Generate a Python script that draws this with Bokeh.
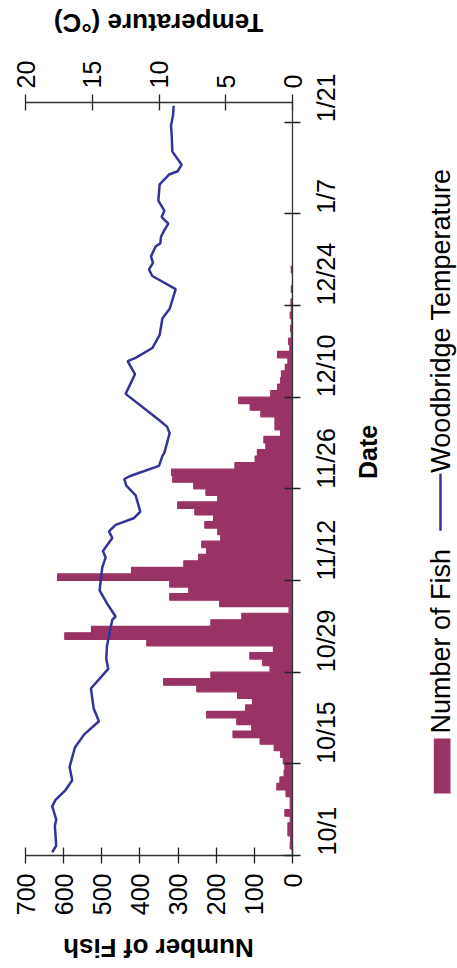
import math
from bokeh.plotting import figure
from bokeh.layouts import column, row
from bokeh.models import Range1d, LinearAxis, FixedTicker, ColumnDataSource
from bokeh.core.properties import value
from bokeh.embed import file_html
from bokeh.resources import INLINE

# ---------------- data ----------------
date_ticks = [0, 14, 28, 42, 56, 70, 84, 98, 112]          # days since 10/1
date_labels = ["10/1", "10/15", "10/29", "11/12", "11/26", "12/10", "12/24", "1/7", "1/21"]
fish_ticks = [0, 100, 200, 300, 400, 500, 600, 700]
temp_ticks = [0, 5, 10, 15, 20]

day_index = list(range(90))
fish_counts = [0, 6, 5, 12, 12, 6, 20, 6, 6, 17,
               41, 33, 22, 20, 24, 31, 48, 85, 156, 107,
               146, 225, 123, 105, 144, 251, 338, 214, 59, 78,
               112, 50, 382, 597, 527, 214, 133, 9, 191, 322,
               272, 322, 616, 422, 285, 246, 225, 238, 188, 196,
               230, 207, 256, 301, 196, 227, 259, 314, 317, 151,
               98, 92, 70, 75, 31, 46, 46, 83, 111, 141,
               57, 39, 31, 29, 19, 12, 39, 7, 10, 3,
               5, 2, 6, 3, 4, 0, 3, 0, 0, 3]

temp_days = [0.5, 1.5, 4.5, 5.5, 7.5, 8.5, 10, 11.5, 13.5, 16.5,
             18.5, 20.5, 22.5, 25.5, 28.5, 30, 32, 36, 36.5, 38.5,
             40.5, 44, 45.5, 46.5, 48.5, 49.5, 50.5, 51.5, 52.5, 55,
             56.5, 57.5, 58, 59.5, 61, 61.5, 64.5, 65.5, 66.5, 70.5,
             73.5, 75.5, 76, 77.5, 79.5, 82, 83.5, 86.5, 88.5, 89.5,
             90.5, 91.5, 93, 93.5, 94.5, 95.5, 96.5, 97.5, 98.5, 100,
             102.5, 104, 104.5, 105.5, 107.5, 110, 111.5, 113, 114.5]
temp_values = [18.0, 17.7, 17.8, 17.7, 18.0, 17.75, 17.0, 16.5, 16.7, 16.3,
               15.6, 14.5, 14.9, 15.1, 13.8, 13.95, 13.9, 13.5, 13.25, 13.9,
               14.45, 14.25, 14.0, 14.2, 13.5, 13.75, 13.25, 11.9, 11.4, 11.75,
               12.45, 12.6, 12.1, 10.0, 9.75, 9.6, 9.2, 9.4, 10.0, 12.5,
               11.8, 12.35, 11.75, 10.5, 9.95, 9.75, 9.2, 8.75, 10.5, 10.75,
               10.45, 10.6, 10.25, 9.9, 9.85, 9.6, 9.3, 9.8, 9.6, 10.05,
               9.95, 9.25, 8.6, 8.3, 9.0, 9.05, 9.1, 8.95, 8.9]

fish_title = "Number of Fish"
temp_title = "Temperature (\u00b0C)"
date_title = "Date"
legend_labels = ["Number of Fish", "Woodbridge Temperature"]

FONT = "Liberation Sans"
BAR = "#993366"
LINE = "#333399"


def blank(w, h, yh=None):
    f = figure(width=w, height=h, x_range=Range1d(0, w),
               y_range=Range1d(0, yh if yh is not None else h),
               output_backend="svg", toolbar_location=None,
               x_axis_type=None, y_axis_type=None,
               min_border=0)
    f.outline_line_color = None
    f.xgrid.visible = False
    f.ygrid.visible = False
    f.background_fill_color = "white"
    f.border_fill_color = "white"
    return f


# ---------------- main chart ----------------
p = figure(width=408, height=882,
           x_range=Range1d(700, 0), y_range=Range1d(0, 115),
           y_axis_location="right",
           output_backend="svg", toolbar_location=None,
           min_border_left=25, min_border_right=116,
           min_border_top=59, min_border_bottom=70)
p.extra_x_ranges = {"temp": Range1d(20, 0)}
p.outline_line_color = None
p.xgrid.visible = False
p.ygrid.visible = False
p.background_fill_color = "white"
p.border_fill_color = "white"

src = ColumnDataSource(dict(y=[d + 0.5 for d in day_index], right=fish_counts))
p.hbar(y="y", height=1.0, left=0, right="right", source=src,
       fill_color=BAR, line_color=BAR, line_width=1.2)
p.line(x=temp_values, y=temp_days, x_range_name="temp",
       line_color=LINE, line_width=2.5)

ax_bottom = p.below[0]
ax_right = p.right[0]
ax_top = LinearAxis(x_range_name="temp")
p.add_layout(ax_top, "above")


def style(ax, ticks, standoff):
    ax.ticker = FixedTicker(ticks=ticks)
    ax.minor_tick_line_color = None
    ax.major_tick_in = 8
    ax.major_tick_out = 8
    ax.axis_line_color = "#333333"
    ax.axis_line_width = 1.3
    ax.major_tick_line_color = "#222222"
    ax.major_tick_line_width = 1.3
    ax.major_label_orientation = math.pi / 2
    ax.major_label_standoff = standoff
    ax.major_label_text_font = FONT
    ax.major_label_text_font_size = "25px"
    ax.major_label_text_color = "black"


style(ax_bottom, fish_ticks, 10)
style(ax_top, temp_ticks, 6)
style(ax_right, date_ticks, 26)
ax_right.major_label_overrides = {t: l for t, l in zip(date_ticks, date_labels)}
ax_right.axis_label = date_title
ax_right.axis_label_orientation = math.pi / 2
ax_right.axis_label_standoff = 10
ax_right.axis_label_text_font = FONT
ax_right.axis_label_text_font_style = "bold"
ax_right.axis_label_text_font_size = "25px"
ax_right.axis_label_text_color = "black"

# ---------------- axis titles (upside down) ----------------
top = blank(457, 43)
top.text(x=[158], y=[21], text=[temp_title], angle=math.pi,
         text_font=value(FONT), text_font_style="bold", text_font_size="26px",
         text_align="center", text_baseline="middle", text_color="black")

bottom = blank(457, 43)
bottom.text(x=[158], y=[21], text=[fish_title], angle=math.pi,
            text_font=value(FONT), text_font_style="bold", text_font_size="26px",
            text_align="center", text_baseline="middle", text_color="black")

# ---------------- legend (rotated); its frame lines up with the chart frame ----------------
leg = blank(49, 882, yh=753.3)
leg.quad(left=[25.3], right=[42], bottom=[62], top=[117],
         fill_color=BAR, line_color=None)
leg.segment(x0=[32], y0=[325], x1=[32], y1=[382], line_color=LINE, line_width=2.5)
leg.text(x=[32.6, 32.6], y=[122, 383], text=legend_labels, angle=math.pi / 2,
         text_font=value(FONT), text_font_size="27px",
         text_align="left", text_baseline="middle", text_color="black")

layout = column(top, row(p, leg), bottom)
open("out.html", "w").write(file_html(layout, INLINE))
